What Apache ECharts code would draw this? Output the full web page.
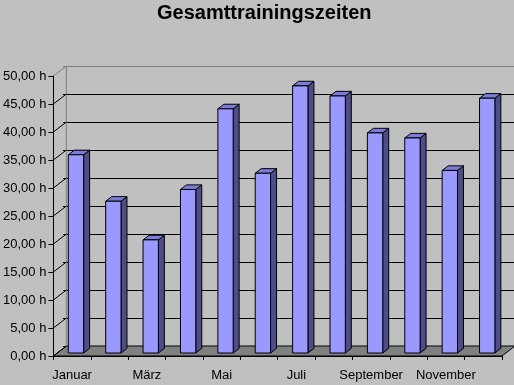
<!DOCTYPE html>
<html>
<head>
<meta charset="utf-8">
<script src="https://cdn.jsdelivr.net/npm/echarts@6/dist/echarts.min.js"></script>
<style>
html,body{margin:0;padding:0;background:#C0C0C0;}
#c{width:514px;height:385px;}
</style>
</head>
<body>
<div id="c"></div>
<script>
const title = 'Gesamttrainingszeiten';
const categories = ['Januar','Februar','März','April','Mai','Juni','Juli','August','September','Oktober','November','Dezember'];
const hours = [35.4, 27.1, 20.2, 29.2, 43.6, 32.1, 47.7, 45.9, 39.3, 38.4, 32.6, 45.5];
const yTicks = [0, 5, 10, 15, 20, 25, 30, 35, 40, 45, 50];

const DX = 13, DY = -10;            // depth projection of the 3D box
const FONT = 'Liberation Sans, Arial, sans-serif';

const chart = echarts.init(document.getElementById('c'), null, {renderer: 'canvas'});

function wallLines(params, api) {
  const cs = params.coordSys;
  const v = api.value(0);
  const y = api.coord([0, v])[1];
  const x0 = cs.x;
  const top = v === 50;
  const children = [{
    type: 'line',
    shape: {x1: x0, y1: y, x2: x0 + DX, y2: y + DY},
    style: {stroke: top ? '#808080' : '#000', lineWidth: 1}
  }];
  if (v === 0) {
    const x1 = cs.x + cs.width;
    children.unshift({
      type: 'polygon',
      shape: {points: [[x0, y], [x1, y], [x1 + DX, y + DY], [x0 + DX, y + DY]]},
      style: {fill: '#808080', stroke: '#000', lineWidth: 1}
    });
    const yTop = api.coord([0, 50])[1];
    children.push({
      type: 'line',
      shape: {x1: x0 + DX, y1: yTop + DY, x2: x0 + DX, y2: y + DY},
      style: {stroke: '#808080', lineWidth: 1}
    });
  }
  return {type: 'group', children: children};
}

function bar3d(params, api) {
  const i = api.value(0), v = api.value(1);
  const base = api.coord([i, 0]);
  const topP = api.coord([i, v]);
  const band = api.size([1, 0])[0];
  const bw = band * 0.41;
  const f = 0.3, d = 0.46;
  const xL = base[0] - bw / 2 + DX * f;
  const xR = xL + bw;
  const yB = base[1] + DY * f;
  const yT = topP[1] + DY * f;
  const ox = DX * d, oy = DY * d;
  const st = {stroke: '#000', lineWidth: 1, lineJoin: 'miter'};
  return {
    type: 'group',
    children: [
      {type: 'polygon', shape: {points: [[xR, yT], [xR + ox, yT + oy], [xR + ox, yB + oy], [xR, yB]]},
       style: Object.assign({fill: '#4D4D88'}, st)},
      {type: 'polygon', shape: {points: [[xL, yT], [xL + ox, yT + oy], [xR + ox, yT + oy], [xR, yT]]},
       style: Object.assign({fill: '#7C7CD8'}, st)},
      {type: 'rect', shape: {x: xL, y: yT, width: bw, height: yB - yT},
       style: Object.assign({fill: '#9999FF'}, st)}
    ]
  };
}

const option = {
  backgroundColor: '#C0C0C0',
  animation: false,
  title: {
    text: title, left: 152, top: -2,
    textStyle: {fontFamily: FONT, fontWeight: 'bold', fontSize: 20, color: '#000'}
  },
  grid: [
    {left: 50, top: 76, width: 452, height: 280},
    {left: 63, top: 66, width: 452, height: 280}
  ],
  xAxis: [
    {
      type: 'category', gridIndex: 0, data: categories, boundaryGap: true,
      axisLine: {show: true, lineStyle: {color: '#000', width: 1}},
      axisTick: {show: true, interval: 0, length: 4, lineStyle: {color: '#000'}},
      axisLabel: {interval: 1, margin: 13, color: '#000', fontFamily: FONT, fontSize: 13},
      z: 10
    },
    {type: 'category', gridIndex: 1, data: categories, show: false}
  ],
  yAxis: [
    {
      type: 'value', gridIndex: 0, min: 0, max: 50, interval: 5,
      axisLine: {show: true, lineStyle: {color: '#000', width: 1}},
      axisTick: {show: true, length: 5, lineStyle: {color: '#000'}},
      axisLabel: {margin: 7, color: '#000', fontFamily: FONT, fontSize: 13,
        formatter: v => v.toFixed(2).replace('.', ',') + ' h'},
      splitLine: {show: false},
      z: 10
    },
    {
      type: 'value', gridIndex: 1, min: 0, max: 50, interval: 5,
      axisLine: {show: false}, axisTick: {show: false}, axisLabel: {show: false},
      splitLine: {show: true, lineStyle: {width: 1,
        color: ['#000','#000','#000','#000','#000','#000','#000','#000','#000','#000','#808080']}}
    }
  ],
  series: [
    {
      type: 'custom', xAxisIndex: 0, yAxisIndex: 0, clip: false, silent: true, z: 1,
      data: yTicks.map(v => [v]), renderItem: wallLines
    },
    {
      type: 'custom', xAxisIndex: 0, yAxisIndex: 0, clip: false, z: 3,
      data: hours.map((v, i) => [i, v]), renderItem: bar3d
    }
  ]
};
chart.setOption(option);
</script>
</body>
</html>
